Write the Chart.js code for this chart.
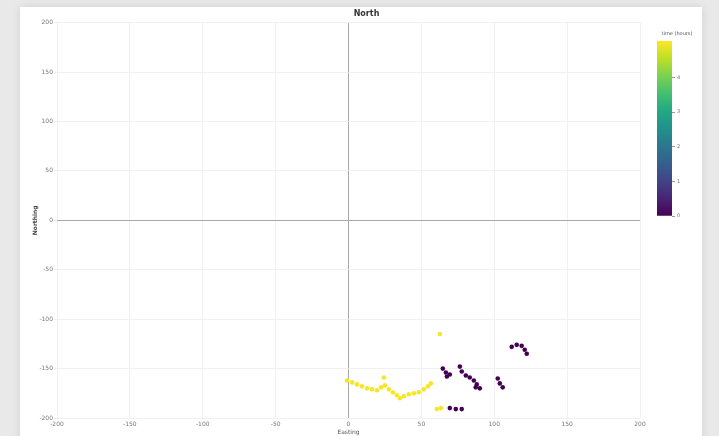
<!DOCTYPE html>
<html>
<head>
<meta charset="utf-8">
<script src="https://cdn.jsdelivr.net/npm/chart.js@4/dist/chart.umd.min.js"></script>
<style>
  html, body { margin: 0; padding: 0; }
  body { width: 719px; height: 436px; background: #e9e9e9; position: relative; overflow: hidden; font-family: "DejaVu Sans", sans-serif; }
  #panel { position: absolute; left: 20px; top: 7px; width: 682px; height: 440px; background: #fff; box-shadow: 0 0 9px rgba(0,0,0,0.10); }
  #main { position: absolute; left: 0; top: 0; }
  #cbar { position: absolute; left: 655px; top: 36px; }
  #cbarTitle { position: absolute; left: 652px; top: 30px; width: 50px; text-align: center; font-size: 5px; color: #555; }
</style>
</head>
<body>
<div id="panel"></div>
<canvas id="main" width="719" height="436"></canvas>
<div id="cbarTitle">time (hours)</div>
<canvas id="cbar" width="45" height="185"></canvas>
<script>
// Track positions (metres east / north of the origin) and elapsed time for each fix
const eastings = [
  -1, 2.4, 5.8, 9.2, 12.7, 16.1, 19.5, 22.3, 25.0, 27.7, 30.5, 33.2, 35.3, 38.0, 41.4, 44.9, 48.3, 51.7, 54.5, 56.5, 24.3,
  60.6, 63.4, 62.7,
  64.7, 66.8, 67.5, 69.5,
  76.4, 77.7, 80.5, 83.2, 86.0, 88.0, 90.1, 87.3,
  102.4, 103.8, 105.8,
  112.0, 115.4, 118.8, 120.9, 122.3,
  69.5, 73.6, 77.7
];
const northings = [
  -162, -164, -166, -168, -170, -171, -172, -169, -167, -171, -174, -177, -180, -178, -176, -175, -174, -171, -168, -165, -159,
  -191, -190, -115,
  -150, -154, -158, -156,
  -148, -153, -157, -159, -162, -166, -170, -169,
  -160, -165, -169,
  -128, -126, -127, -131, -135,
  -190, -191, -191
];
const hours = [
  5, 5, 5, 5, 5, 5, 5, 5, 5, 5, 5, 5, 5, 5, 5, 5, 5, 5, 5, 5, 5,
  5, 5, 5,
  0, 0, 0, 0,
  0, 0, 0, 0, 0, 0, 0, 0,
  0, 0, 0,
  0, 0, 0, 0, 0,
  0, 0, 0
];
const axisTicks = [-200, -150, -100, -50, 0, 50, 100, 150, 200];
const colorTicks = [0, 1, 2, 3, 4];
const colorMin = 0;
const colorMax = 5.05;

// viridis colour map
const viridisStops = ['#440154', '#482475', '#414487', '#355f8d', '#2a788e', '#21918c',
                      '#22a884', '#44bf70', '#7ad151', '#bddf26', '#fde725'];
function hexToRgb(h) {
  return [parseInt(h.slice(1, 3), 16), parseInt(h.slice(3, 5), 16), parseInt(h.slice(5, 7), 16)];
}
function viridis(t) {
  t = Math.max(0, Math.min(1, t));
  const pos = t * (viridisStops.length - 1);
  const i = Math.min(Math.floor(pos), viridisStops.length - 2);
  const f = pos - i;
  const a = hexToRgb(viridisStops[i]), b = hexToRgb(viridisStops[i + 1]);
  const c = a.map((v, k) => Math.round(v + (b[k] - v) * f));
  return `rgb(${c[0]},${c[1]},${c[2]})`;
}
function colorFor(v) { return viridis((v - colorMin) / (colorMax - colorMin)); }

const points = eastings.map((x, i) => ({ x, y: northings[i] }));
const tickFont = { family: 'DejaVu Sans', size: 6 };
const gridColor = ctx => (ctx.tick && ctx.tick.value === 0) ? '#a8a8a8' : '#f1f1f1';

new Chart(document.getElementById('main'), {
  type: 'scatter',
  data: {
    datasets: [{
      data: points,
      pointRadius: 2.3,
      pointHoverRadius: 2.3,
      pointBorderWidth: 0,
      pointBackgroundColor: ctx => colorFor(hours[ctx.dataIndex]),
      pointBorderColor: ctx => colorFor(hours[ctx.dataIndex])
    }]
  },
  options: {
    responsive: false,
    animation: false,
    events: [],
    layout: { padding: { left: 14, right: 0, top: 0, bottom: 0 } },
    plugins: {
      legend: { display: false },
      tooltip: { enabled: false },
      title: {
        display: true,
        text: 'North',
        color: '#333',
        font: { family: 'DejaVu Sans', size: 8, weight: 'bold' },
        padding: { top: 9, bottom: 4 }
      }
    },
    scales: {
      x: {
        type: 'linear',
        min: -200, max: 200,
        afterBuildTicks: s => { s.ticks = axisTicks.map(v => ({ value: v })); },
        afterFit: s => { s.height = 18; },
        grid: { color: gridColor, lineWidth: 1, drawTicks: false },
        border: { display: false },
        ticks: { color: '#777', font: tickFont, padding: 3, maxRotation: 0 },
        title: { display: true, text: 'Easting', color: '#555', font: tickFont, padding: { top: 1, bottom: 0 } }
      },
      y: {
        type: 'linear',
        min: -200, max: 200,
        afterBuildTicks: s => { s.ticks = axisTicks.map(v => ({ value: v })); },
        afterFit: s => { s.width = 43; },
        grid: { color: gridColor, lineWidth: 1, drawTicks: true, tickLength: 3, tickColor: '#eee' },
        border: { display: false },
        ticks: { color: '#777', font: tickFont, padding: 1 },
        title: { display: true, text: 'Northing', color: '#444', font: { family: 'DejaVu Sans', size: 6, weight: 'bold' }, padding: { top: 18, bottom: 0 } }
      },
      // empty right-hand axis that reserves the space used by the colour bar
      side: {
        type: 'linear',
        position: 'right',
        display: true,
        grid: { display: false },
        border: { display: false },
        ticks: { display: false },
        afterFit: s => { s.width = 79; }
      }
    }
  }
});

// Colour bar: one floating bar spanning the colour range, filled with the map
new Chart(document.getElementById('cbar'), {
  type: 'bar',
  data: {
    labels: [''],
    datasets: [{
      data: [[colorMin, colorMax]],
      borderWidth: 0,
      barPercentage: 1,
      categoryPercentage: 1,
      backgroundColor: ctx => {
        const chart = ctx.chart;
        const y = chart.scales.y;
        if (!chart.chartArea || !y) return viridis(0.5);
        const g = chart.ctx.createLinearGradient(0, y.getPixelForValue(colorMin), 0, y.getPixelForValue(colorMax));
        viridisStops.forEach((c, i) => g.addColorStop(i / (viridisStops.length - 1), c));
        return g;
      }
    }]
  },
  options: {
    responsive: false,
    animation: false,
    events: [],
    layout: { padding: { left: 2, right: 0, top: 2, bottom: 2 } },
    plugins: { legend: { display: false }, tooltip: { enabled: false }, title: { display: false } },
    scales: {
      x: { display: false },
      y: {
        position: 'right',
        min: colorMin, max: colorMax,
        afterBuildTicks: s => { s.ticks = colorTicks.map(v => ({ value: v })); },
        afterFit: s => { s.width = 28; },
        grid: { drawOnChartArea: false, drawTicks: true, tickLength: 3, tickColor: '#999' },
        border: { display: false },
        ticks: { color: '#777', font: { family: 'DejaVu Sans', size: 5 }, padding: 2 }
      }
    }
  }
});
</script>
</body>
</html>
